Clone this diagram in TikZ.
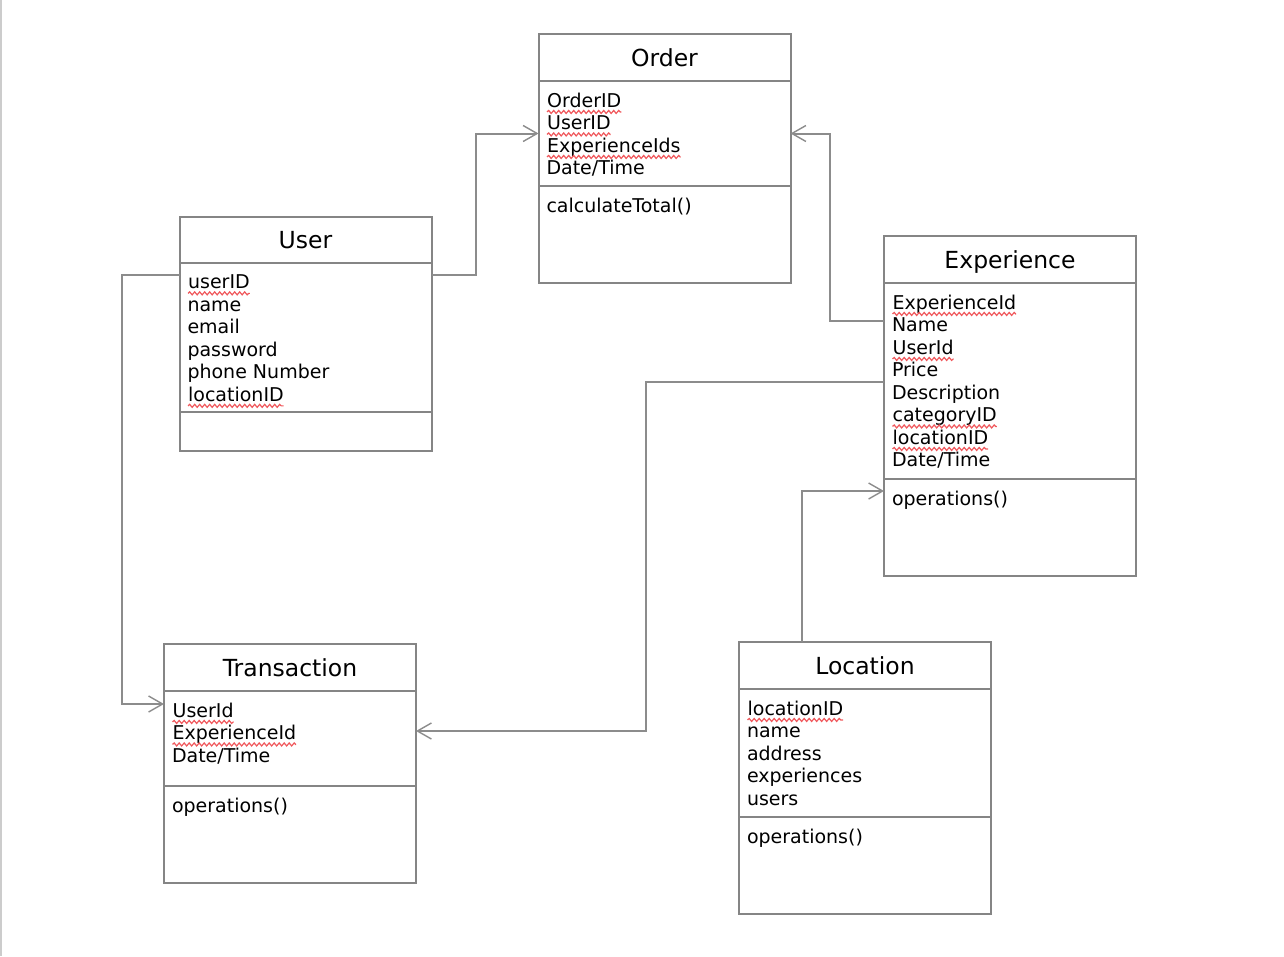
\documentclass[tikz,border=0pt]{standalone}
\usepackage{fontspec}
\setmainfont{DejaVu Sans}
\usepackage{xcolor}
\usepackage{tikz}
\usetikzlibrary{arrows.meta,decorations.pathmorphing,positioning}

\definecolor{boxgray}{HTML}{858585}
\definecolor{linegray}{HTML}{8C8C8C}
\definecolor{spellred}{HTML}{F0585C}

\tikzset{
  spellwave/.style={spellred, line width=1.2pt, decorate,
    decoration={snake, amplitude=1.5pt, segment length=5pt}}
}
% red wavy underline under a word
\newcommand{\spell}[1]{\tikz[baseline=(w.base)]{%
  \node[inner sep=0pt, outer sep=0pt, anchor=base, draw=none] (w) {#1};
  \draw[spellwave] ([yshift=-4.5pt]w.base west) -- ([yshift=-4.5pt]w.base east);}}

\begin{document}
\begin{tikzpicture}[
    x=1pt, y=-1pt,
    classhead/.style={
        rectangle, % shape
        draw=boxgray, line width=2pt,
        minimum width=252pt, minimum height=47pt,
        inner sep=0pt, outer sep=0pt,
        text height=17pt, text depth=0pt,
        font=\fontsize{23.5}{27}\selectfont
      },
    compart/.style={
        rectangle,
        draw=boxgray, line width=2pt,
        minimum width=252pt,
        inner sep=0pt, outer sep=0pt
      },
    members/.style={
        inner sep=0pt, outer sep=0pt,
        align=left,
        font=\fontsize{19}{22.5}\selectfont
      },
    link/.style={
        draw=linegray, line width=2pt,
        -{Straight Barb[length=14pt, width=16pt, line width=1.4pt]}
      }
  ]
  \fill[white] (0,0) rectangle (1284,956);
  \fill[black!20] (0,0) rectangle (2,956);
  \useasboundingbox (0,0) rectangle (1284,956);

  % Order
  \node (order) [classhead] at (664.5,57.5) {Order};
  \node (order-attr) [compart, minimum height=105pt, below=0pt of order] {};
  \node (order-ops) [compart, minimum height=97pt, below=0pt of order-attr] {};
  \node (order-attr-text) [members, below right=12pt and 8pt of order-attr.north west]
    {\spell{OrderID}\\ \spell{UserID}\\ \spell{ExperienceIds}\\ Date/Time};
  \node (order-ops-text) [members, below right=12pt and 8pt of order-ops.north west]
    {calculateTotal()};

  % User
  \node (user) [classhead, minimum height=46pt] at (305.5,240) {User};
  \node (user-attr) [compart, minimum height=149pt, below=0pt of user] {};
  \node (user-ops) [compart, minimum height=39pt, below=0pt of user-attr] {};
  \node (user-attr-text) [members, below right=12pt and 8pt of user-attr.north west]
    {\spell{userID}\\ name\\ email\\ password\\ phone Number\\ \spell{locationID}};

  % Experience
  \node (exp) [classhead] at (1010,259.5) {Experience};
  \node (exp-attr) [compart, minimum height=196pt, below=0pt of exp] {};
  \node (exp-ops) [compart, minimum height=97pt, below=0pt of exp-attr] {};
  \node (exp-attr-text) [members, below right=12pt and 8pt of exp-attr.north west]
    {\spell{ExperienceId}\\ Name\\ \spell{UserId}\\ Price\\ Description\\
     \spell{categoryID}\\ \spell{locationID}\\ Date/Time};
  \node (exp-ops-text) [members, below right=12pt and 8pt of exp-ops.north west]
    {operations()};

  % Transaction
  \node (trans) [classhead] at (290,667.5) {Transaction};
  \node (trans-attr) [compart, minimum height=95pt, below=0pt of trans] {};
  \node (trans-ops) [compart, minimum height=97pt, below=0pt of trans-attr] {};
  \node (trans-attr-text) [members, below right=12pt and 8pt of trans-attr.north west]
    {\spell{UserId}\\ \spell{ExperienceId}\\ Date/Time};
  \node (trans-ops-text) [members, below right=12pt and 8pt of trans-ops.north west]
    {operations()};

  % Location
  \node (loc) [classhead] at (865,665.5) {Location};
  \node (loc-attr) [compart, minimum height=128pt, below=0pt of loc] {};
  \node (loc-ops) [compart, minimum height=97pt, below=0pt of loc-attr] {};
  \node (loc-attr-text) [members, below right=12pt and 8pt of loc-attr.north west]
    {\spell{locationID}\\ name\\ address\\ experiences\\ users};
  \node (loc-ops-text) [members, below right=12pt and 8pt of loc-ops.north west]
    {operations()};

  % connectors
  \draw[link] ([yshift=-12pt]user-attr.north east) -- ++(44pt,0) |- (order-attr.west);
  \draw[link] ([yshift=-38pt]exp-attr.north west) -- ++(-54pt,0) |- (order-attr.east);
  \draw[link] ([yshift=-12pt]user-attr.north west) -- ++(-58pt,0)
    |- ([yshift=-13pt]trans-attr.north west);
  \draw[link] ([yshift=-99pt]exp-attr.north west) -- ++(-238pt,0)
    |- ([yshift=-40pt]trans-attr.north east);
  \draw[link] ([xshift=63pt]loc.north west) |- ([yshift=-12pt]exp-ops.north west);
\end{tikzpicture}
\end{document}
